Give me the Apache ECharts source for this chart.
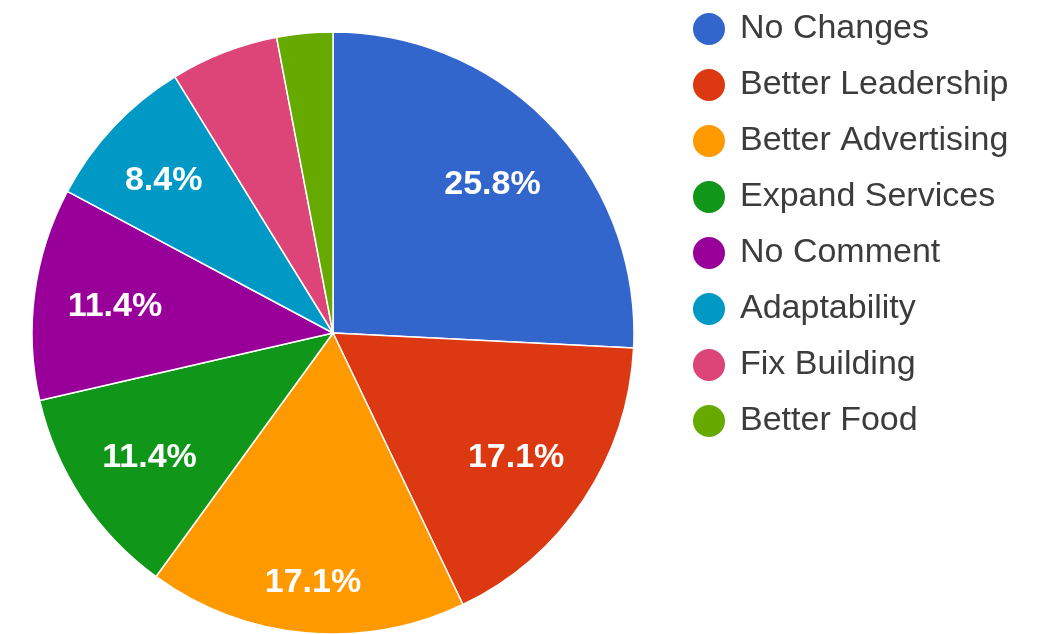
<!DOCTYPE html>
<html>
<head>
<meta charset="utf-8">
<script src="https://cdn.jsdelivr.net/npm/echarts@6/dist/echarts.min.js"></script>
<style>
  html, body { margin: 0; padding: 0; background: #fff; }
  #chart { width: 1042px; height: 634px; }
</style>
</head>
<body>
<div id="chart"></div>
<script>
// Survey responses: suggested improvements (percent of respondents)
const categories = ['No Changes', 'Better Leadership', 'Better Advertising', 'Expand Services',
                    'No Comment', 'Adaptability', 'Fix Building', 'Better Food'];
const shares = [25.8, 17.1, 17.1, 11.4, 11.4, 8.4, 5.8, 3.0];
const palette = ['#3366cc', '#dc3912', '#ff9900', '#109618', '#990099', '#0099c6', '#dd4477', '#66aa00'];

// slices smaller than this carry no percentage label
const labelThreshold = 8;

const FONT = '"Liberation Sans", Arial, sans-serif';
const CENTER = [333, 333];
const RADIUS = 301;

// small per-slice label nudges so each percentage sits comfortably in its wedge
const labelNudge = { 2: [0, 28], 5: [-9, -5] };

const sliceData = categories.map((name, i) => ({ name, value: shares[i] }));
const labelData = categories.map((name, i) => {
  const n = labelNudge[i] || [0, 0];
  return {
    name,
    value: shares[i],
    label: { show: shares[i] >= labelThreshold, offset: [n[0], n[1] + 3] }
  };
});

const chart = echarts.init(document.getElementById('chart'), null, { renderer: 'canvas' });
chart.setOption({
  animation: false,
  color: palette,
  legend: {
    orient: 'vertical',
    left: 686,
    top: 6,
    icon: 'circle',
    itemWidth: 34,
    itemHeight: 34,
    itemGap: 20,
    data: categories,
    textStyle: {
      fontFamily: FONT,
      fontSize: 34,
      lineHeight: 34,
      color: '#3c3c3c',
      padding: [0, 0, 0, 9]
    }
  },
  series: [
    {
      name: 'slices',
      type: 'pie',
      center: CENTER,
      radius: RADIUS,
      startAngle: 90,
      clockwise: true,
      data: sliceData,
      label: { show: false },
      labelLine: { show: false },
      itemStyle: { borderColor: '#ffffff', borderWidth: 1.5 },
      emphasis: { scale: false }
    },
    {
      // label ring: places the percentages about 72% of the way out
      name: 'labels',
      type: 'pie',
      center: CENTER,
      radius: [133, RADIUS],
      startAngle: 90,
      clockwise: true,
      silent: true,
      data: labelData,
      itemStyle: { color: 'rgba(0,0,0,0)', borderWidth: 0 },
      label: {
        position: 'inside',
        formatter: p => p.value.toFixed(1) + '%',
        color: '#ffffff',
        fontFamily: FONT,
        fontSize: 34,
        fontWeight: 'bold'
      },
      labelLine: { show: false }
    }
  ]
});
</script>
</body>
</html>
